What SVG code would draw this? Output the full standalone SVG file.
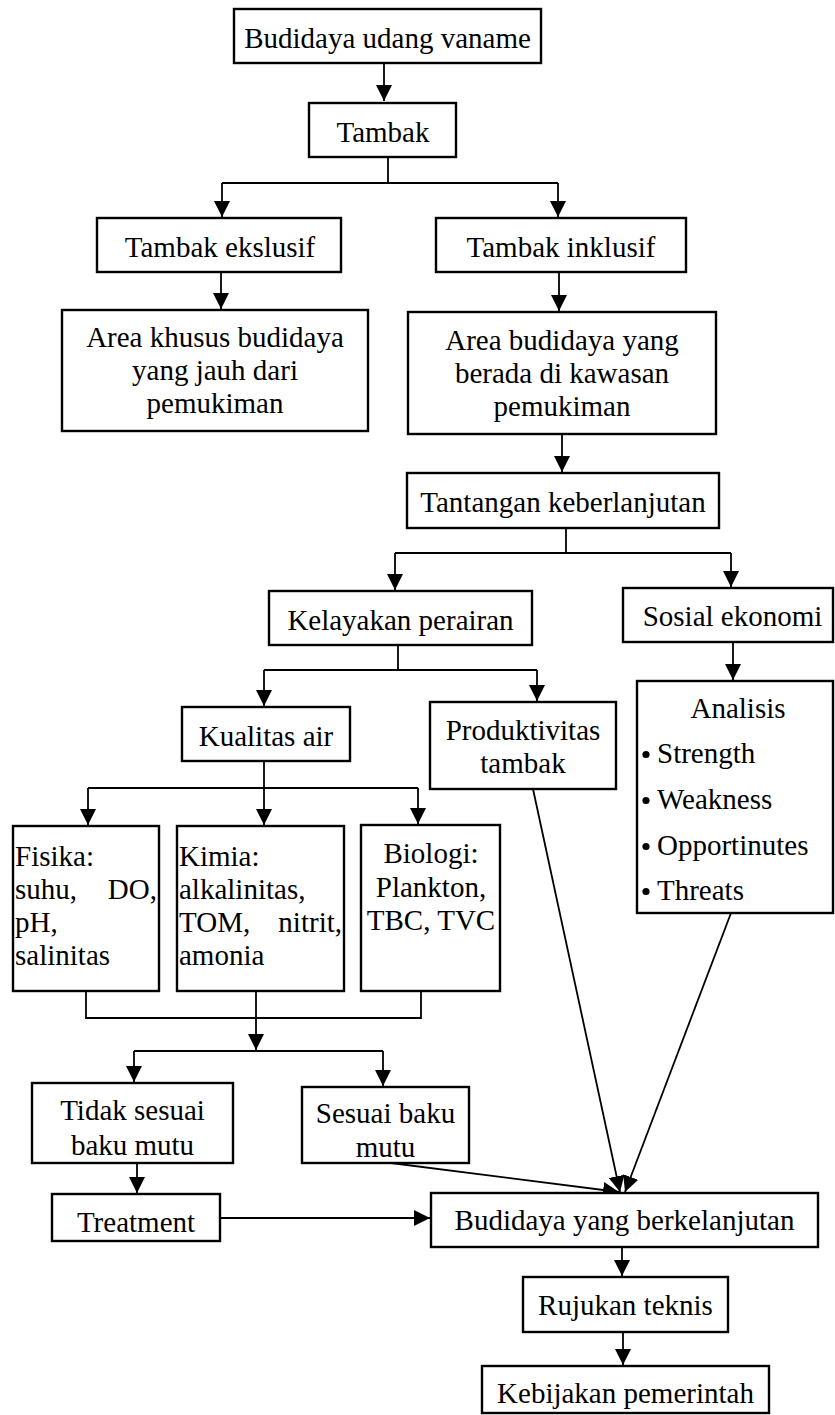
<svg xmlns="http://www.w3.org/2000/svg" width="835" height="1415" viewBox="0 0 835 1415">
<style>
.box{fill:#fff;stroke:#000;stroke-width:2.4}
.t{font-family:"Liberation Serif","Times New Roman",serif;font-size:29px;fill:#000}
.c{text-anchor:middle}
.e{text-anchor:end}
.ln{fill:none;stroke:#000;stroke-width:1.8}
.ar{fill:none;stroke:#000;stroke-width:1.8;marker-end:url(#ah)}
</style>
<defs>
<marker id="ah" markerUnits="userSpaceOnUse" markerWidth="17" markerHeight="16" refX="16" refY="8" orient="auto">
<path d="M0,0 L16,8 L0,16 z" fill="#000"/>
</marker>
</defs>
<rect width="835" height="1415" fill="#fff"/>
<g id="connectors">
<path class="ar" d="M384,63 V101"/>
<path class="ln" d="M388,157 V183 M222,183 H558"/>
<path class="ar" d="M222,183 V217"/>
<path class="ar" d="M558,183 V217"/>
<path class="ar" d="M221,272 V309"/>
<path class="ar" d="M559,272 V311"/>
<path class="ar" d="M562,434 V472"/>
<path class="ln" d="M566,528 V553 M395,553 H731"/>
<path class="ar" d="M395,553 V590"/>
<path class="ar" d="M731,553 V587"/>
<path class="ln" d="M398,645 V670 M264,670 H537"/>
<path class="ar" d="M264,670 V706"/>
<path class="ar" d="M537,670 V701"/>
<path class="ar" d="M733,642 V680"/>
<path class="ln" d="M264,761 V788 M88,788 H418"/>
<path class="ar" d="M88,788 V825"/>
<path class="ar" d="M264,788 V825"/>
<path class="ar" d="M418,788 V824"/>
<path class="ln" d="M86,991 V1018 H421 V991"/>
<path class="ar" d="M256,991 V1050"/>
<path class="ln" d="M134,1051 H383"/>
<path class="ar" d="M134,1051 V1082"/>
<path class="ar" d="M383,1051 V1086"/>
<path class="ar" d="M137,1163 V1193"/>
<path class="ar" d="M220,1218 H430"/>
<path class="ar" d="M533,789 L620,1192"/>
<path class="ar" d="M731,913 L625,1192"/>
<path class="ar" d="M383,1162 L619,1192"/>
<path class="ar" d="M622,1247 V1276"/>
<path class="ar" d="M623,1332 V1365"/>
</g>
<g id="n1"><rect class="box" x="234" y="9" width="307" height="54"/><text class="t c" x="387.5" y="48">Budidaya udang vaname</text></g>
<g id="n2"><rect class="box" x="309" y="103" width="147" height="54"/><text class="t c" x="383" y="142">Tambak</text></g>
<g id="n3"><rect class="box" x="97" y="218" width="244" height="54"/><text class="t c" x="220" y="257">Tambak ekslusif</text></g>
<g id="n4"><rect class="box" x="436" y="218" width="250" height="54"/><text class="t c" x="561" y="257">Tambak inklusif</text></g>
<g id="n5"><rect class="box" x="62" y="310" width="306" height="121"/><text class="t c" x="215" y="347">Area khusus budidaya</text><text class="t c" x="215" y="380">yang jauh dari</text><text class="t c" x="215" y="413">pemukiman</text></g>
<g id="n6"><rect class="box" x="408" y="312" width="308" height="122"/><text class="t c" x="562" y="350">Area budidaya yang</text><text class="t c" x="562" y="383">berada di kawasan</text><text class="t c" x="562" y="416">pemukiman</text></g>
<g id="n7"><rect class="box" x="407" y="473" width="312" height="55"/><text class="t c" x="563" y="512">Tantangan keberlanjutan</text></g>
<g id="n8"><rect class="box" x="269" y="591" width="263" height="54"/><text class="t c" x="400.5" y="630">Kelayakan perairan</text></g>
<g id="n9"><rect class="box" x="623" y="588" width="210" height="54"/><text class="t c" x="732.5" y="626">Sosial ekonomi</text></g>
<g id="n10"><rect class="box" x="182" y="707" width="168" height="54"/><text class="t c" x="266" y="746">Kualitas air</text></g>
<g id="n11"><rect class="box" x="430" y="702" width="186" height="87"/><text class="t c" x="523" y="740">Produktivitas</text><text class="t c" x="523" y="773">tambak</text></g>
<g id="n12"><rect class="box" x="637" y="681" width="196" height="232"/>
<text class="t c" x="738" y="718">Analisis</text>
<circle cx="646" cy="754.5" r="3.6"/><text class="t" x="657" y="763">Strength</text>
<circle cx="646" cy="800.5" r="3.6"/><text class="t" x="657" y="809">Weakness</text>
<circle cx="646" cy="846.5" r="3.6"/><text class="t" x="657" y="855">Opportinutes</text>
<circle cx="646" cy="891.5" r="3.6"/><text class="t" x="657" y="900">Threats</text>
</g>
<g id="n13"><rect class="box" x="13" y="826" width="146" height="165"/>
<text class="t" x="15" y="866">Fisika:</text>
<text class="t" x="15" y="899">suhu,</text><text class="t e" x="157" y="899">DO,</text>
<text class="t" x="15" y="932">pH,</text>
<text class="t" x="15" y="965">salinitas</text>
</g>
<g id="n14"><rect class="box" x="177" y="826" width="167" height="165"/>
<text class="t" x="179" y="866">Kimia:</text>
<text class="t" x="179" y="899">alkalinitas,</text>
<text class="t" x="179" y="932">TOM,</text><text class="t e" x="342" y="932">nitrit,</text>
<text class="t" x="179" y="965">amonia</text>
</g>
<g id="n15"><rect class="box" x="361" y="825" width="139" height="166"/>
<text class="t c" x="431" y="863">Biologi:</text>
<text class="t c" x="431" y="897">Plankton,</text>
<text class="t c" x="431" y="930">TBC, TVC</text>
</g>
<g id="n16"><rect class="box" x="32" y="1083" width="201" height="80"/><text class="t c" x="132.5" y="1120">Tidak sesuai</text><text class="t c" x="132.5" y="1155">baku mutu</text></g>
<g id="n17"><rect class="box" x="302" y="1087" width="167" height="76"/><text class="t c" x="385.5" y="1123">Sesuai baku</text><text class="t c" x="385.5" y="1157">mutu</text></g>
<g id="n18"><rect class="box" x="52" y="1194" width="168" height="47"/><text class="t c" x="136" y="1232">Treatment</text></g>
<g id="n19"><rect class="box" x="431" y="1193" width="387" height="54"/><text class="t c" x="624.5" y="1230">Budidaya yang berkelanjutan</text></g>
<g id="n20"><rect class="box" x="523" y="1277" width="205" height="55"/><text class="t c" x="625.5" y="1315">Rujukan teknis</text></g>
<g id="n21"><rect class="box" x="482" y="1366" width="287" height="47"/><text class="t c" x="625.5" y="1403">Kebijakan pemerintah</text></g>
</svg>
